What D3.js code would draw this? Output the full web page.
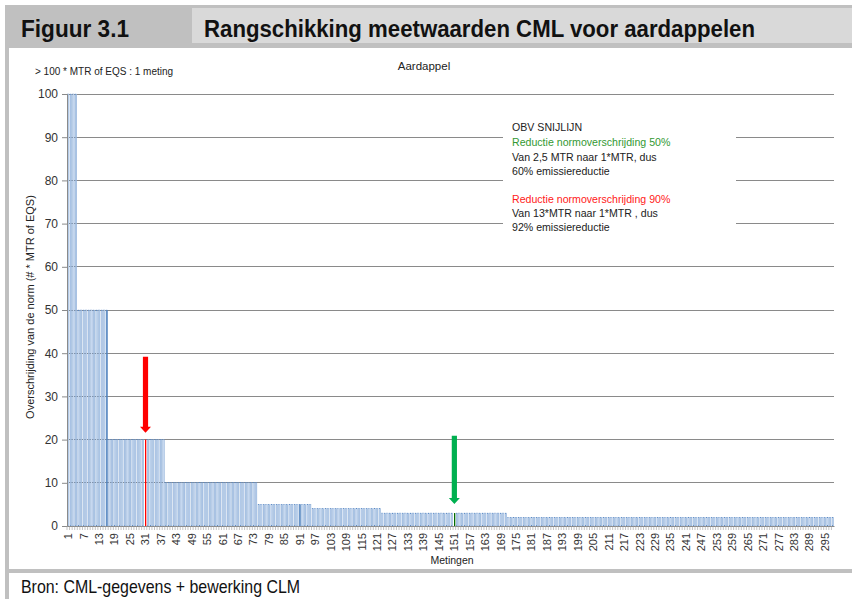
<!DOCTYPE html>
<html><head><meta charset="utf-8">
<script src="https://cdn.jsdelivr.net/npm/d3@7"></script>
<style>body{margin:0;background:#fff}svg{display:block}</style>
</head><body><svg id="c" width="852" height="599"></svg>
<script>
// ---- data ----
const values = [
  100,100,100,100,
  50,50,50,50,50,50,50,50,50,50,50,50,
  20,20,20,20,20,20,20,20,20,20,
  20,20,20,20,20,20,20,20,20,20,
  20,20,
  10,10,10,10,10,10,10,10,10,10,
  10,10,10,10,10,10,10,10,10,10,
  10,10,10,10,10,10,10,10,10,10,
  10,10,10,10,10,10,
  5,5,5,5,5,5,5,5,5,5,
  5,5,5,5,5,5,5,5,5,5,
  5,
  4,4,4,4,4,4,4,4,4,4,
  4,4,4,4,4,4,4,4,4,4,
  4,4,4,4,4,4,4,
  3,3,3,3,3,3,3,3,3,3,
  3,3,3,3,3,3,3,3,3,3,
  3,3,3,3,3,3,3,3,3,3,
  3,3,3,3,3,3,3,3,3,3,
  3,3,3,3,3,3,3,3,3,
  2,2,2,2,2,2,2,2,2,2,
  2,2,2,2,2,2,2,2,2,2,
  2,2,2,2,2,2,2,2,2,2,
  2,2,2,2,2,2,2,2,2,2,
  2,2,2,2,2,2,2,2,2,2,
  2,2,2,2,2,2,2,2,2,2,
  2,2,2,2,2,2,2,2,2,2,
  2,2,2,2,2,2,2,2,2,2,
  2,2,2,2,2,2,2,2,2,2,
  2,2,2,2,2,2,2,2,2,2,
  2,2,2,2,2,2,2,2,2,2,
  2,2,2,2,2,2,2,2,2,2,
  2,2,2,2,2,2,2
];
const categories = values.map((d, i) => i + 1);   // measurement rank numbers
const xTickLabels = [1,7,13,19,25,31,37,43,49,55,61,67,73,79,85,91,97,103,109,115,121,127,133,139,145,
  151,157,163,169,175,181,187,193,199,205,211,217,223,229,235,241,247,253,259,265,271,277,283,289,295];
const yTicks = [0,10,20,30,40,50,60,70,80,90,100];
const darkBars = [16, 91];
const redBars = [31];
const greenBars = [151];
const arrowBars = [31, 151];
const arrowFrom = [39.2, 20.9];
const arrowTo = [21.6, 5.1];
const arrowColors = ["#ff0000", "#00b050"];
const noteLines = ["OBV SNIJLIJN", "Reductie normoverschrijding 50%", "Van 2,5 MTR naar 1*MTR, dus",
  "60% emissiereductie", "Reductie normoverschrijding 90%", "Van 13*MTR naar 1*MTR , dus", "92% emissiereductie"];
const noteColors = ["#222", "#339933", "#222", "#222", "#ff2020", "#222", "#222"];

// ---- drawing ----
const svg = d3.select("#c");
const F = "'Liberation Sans', Arial, sans-serif";

// header
svg.append("rect").attr("x", 5).attr("y", 5).attr("width", 847).attr("height", 43).attr("fill", "#c0c0c0");
svg.append("rect").attr("x", 192).attr("y", 8).attr("width", 660).attr("height", 35).attr("fill", "#d9d9d9");
svg.append("text").attr("x", 21).attr("y", 36.5).attr("font-family", F).attr("font-weight", "bold")
  .attr("font-size", 23).attr("fill", "#111").attr("textLength", 108).attr("lengthAdjust", "spacingAndGlyphs")
  .text("Figuur 3.1");
svg.append("text").attr("x", 204).attr("y", 36.5).attr("font-family", F).attr("font-weight", "bold")
  .attr("font-size", 23).attr("fill", "#111").attr("textLength", 551).attr("lengthAdjust", "spacingAndGlyphs")
  .text("Rangschikking meetwaarden CML voor aardappelen");

// panel borders
svg.append("rect").attr("x", 5).attr("y", 47).attr("width", 4).attr("height", 552).attr("fill", "#c0c0c0");
svg.append("rect").attr("x", 5).attr("y", 569).attr("width", 847).attr("height", 4).attr("fill", "#c0c0c0");
svg.append("text").attr("x", 21).attr("y", 592.5).attr("font-family", F).attr("font-size", 18.5)
  .attr("fill", "#111").attr("textLength", 279).attr("lengthAdjust", "spacingAndGlyphs")
  .text("Bron: CML-gegevens + bewerking CLM");

// scales
const x = d3.scaleBand().domain(categories).range([67, 834]).padding(0);
const y = d3.scaleLinear().domain([0, 100]).range([526, 94]);
const bw = x.bandwidth();

// gridlines
svg.append("g").selectAll("line").data(yTicks.filter(d => d > 0)).join("line")
  .attr("x1", 67).attr("x2", 834).attr("y1", d => y(d)).attr("y2", d => y(d))
  .attr("stroke", "#8a8a8a").attr("stroke-width", 1).attr("shape-rendering", "crispEdges");

// note box (white background interrupting gridlines)
svg.append("rect").attr("x", 503).attr("y", 117).attr("width", 233).attr("height", 119).attr("fill", "#fff");
const noteY = [131, 146, 160.5, 175, 202.5, 216.5, 230.5];
svg.append("g").selectAll("text").data(noteLines).join("text")
  .attr("x", 512).attr("y", (d, i) => noteY[i]).attr("font-family", F).attr("font-size", 10.6)
  .attr("fill", (d, i) => noteColors[i]).text(d => d);

// bars
const isRed = i => redBars.includes(categories[i]);
const isGreen = i => greenBars.includes(categories[i]);
const isDark = i => darkBars.includes(categories[i]);
const hi = i => isRed(i) || isGreen(i);
svg.append("g").selectAll("rect").data(values).join("rect")
  .attr("x", (d, i) => hi(i) ? Math.round(x(categories[i]) + bw / 2 - 0.6) : x(categories[i]) + bw * 0.22)
  .attr("width", (d, i) => hi(i) ? 1.3 : bw * 0.56)
  .attr("y", d => y(d))
  .attr("height", d => y(0) - y(d))
  .attr("fill", (d, i) => isRed(i) ? "#ff0000" : isGreen(i) ? "#006b00" : isDark(i) ? "#4f81bd" : "#c6d8f0")
  .attr("stroke", (d, i) => hi(i) ? "none" : "#5a89c4")
  .attr("stroke-width", 0.35);

// axes
const yAxis = svg.append("g").attr("transform", "translate(67,0)")
  .call(d3.axisLeft(y).tickValues(yTicks).tickSize(5).tickPadding(4));
yAxis.select(".domain").attr("stroke", "#8a8a8a");
yAxis.selectAll(".tick line").attr("stroke", "#8a8a8a");
yAxis.selectAll("text").attr("font-family", F).attr("font-size", 12).attr("fill", "#333");

const xAxis = svg.append("g").attr("transform", "translate(0,526)")
  .call(d3.axisBottom(x).tickValues(xTickLabels).tickSize(0).tickSizeOuter(0));
xAxis.select(".domain").attr("stroke", "#8a8a8a");
xAxis.selectAll("text").attr("font-family", F).attr("font-size", 11).attr("fill", "#333")
  .attr("transform", "rotate(-90)").attr("text-anchor", "end")
  .attr("x", -7).attr("y", 0).attr("dy", "0.35em");
// category boundary tick marks
svg.append("g").selectAll("line").data(categories).join("line")
  .attr("x1", d => x(d)).attr("x2", d => x(d)).attr("y1", 526).attr("y2", 530)
  .attr("stroke", "#9a9a9a").attr("stroke-width", 0.6);

// titles
svg.append("text").attr("x", 424).attr("y", 69.5).attr("text-anchor", "middle").attr("font-family", F)
  .attr("font-size", 11.5).attr("fill", "#222").text("Aardappel");
svg.append("text").attr("x", 35).attr("y", 75).attr("font-family", F).attr("font-size", 10)
  .attr("fill", "#222").text("> 100 * MTR of EQS : 1 meting");
svg.append("text").attr("transform", "translate(34,307) rotate(-90)").attr("text-anchor", "middle")
  .attr("font-family", F).attr("font-size", 11).attr("fill", "#222")
  .text("Overschrijding van de norm (# * MTR of EQS)");
svg.append("text").attr("x", 452).attr("y", 563.5).attr("text-anchor", "middle").attr("font-family", F)
  .attr("font-size", 10.5).attr("fill", "#222").text("Metingen");

// arrows
arrowBars.forEach((b, i) => {
  const cx = x(b) + bw / 2, y0 = y(arrowFrom[i]), y1 = y(arrowTo[i]);
  const hl = 6, sw = 2.6, hw = 5.5;
  svg.append("path")
    .attr("d", `M${cx - sw},${y0} L${cx + sw},${y0} L${cx + sw},${y1 - hl} L${cx + hw},${y1 - hl} L${cx},${y1} L${cx - hw},${y1 - hl} L${cx - sw},${y1 - hl} Z`)
    .attr("fill", arrowColors[i]);
});
</script></body></html>
